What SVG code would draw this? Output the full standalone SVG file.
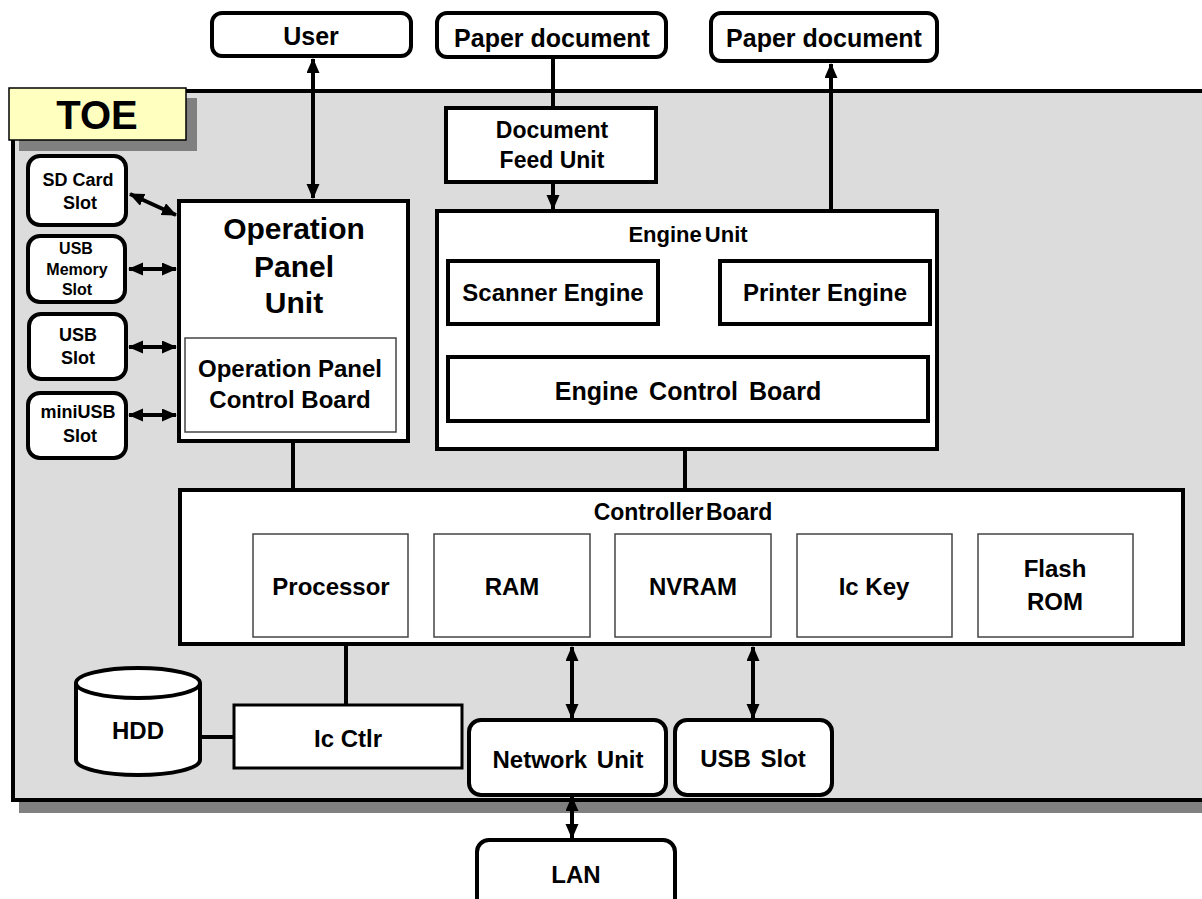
<svg xmlns="http://www.w3.org/2000/svg" width="1202" height="899" viewBox="0 0 1202 899">
<style>
text{font-family:"Liberation Sans",Arial,sans-serif;font-weight:bold;fill:#000;text-anchor:middle}
.rb{fill:#fff;stroke:#000;stroke-width:4}
.bx{fill:#fff;stroke:#000;stroke-width:4}
.thin{fill:#fff;stroke:#444;stroke-width:1.5}
.ln{stroke:#000;stroke-width:4;fill:none}
.ar{stroke:#000;stroke-width:4;fill:none;marker-end:url(#ah)}
.dar{stroke:#000;stroke-width:4;fill:none;marker-start:url(#ah);marker-end:url(#ah)}
</style>
<defs>
<marker id="ah" markerUnits="userSpaceOnUse" markerWidth="16" markerHeight="14" refX="14" refY="6.5" orient="auto-start-reverse" viewBox="0 0 16 14">
<path d="M0,0 L15,6.5 L0,13 z" fill="#000"/>
</marker>
</defs>
<rect width="1202" height="899" fill="#fff"/>
<g id="toe">
<rect x="19" y="104" width="1200" height="709" fill="#808080"/>
<rect x="13" y="91" width="1200" height="709" fill="#dcdcdc" stroke="#000" stroke-width="4"/>
<rect x="19" y="98" width="178" height="53" fill="#808080"/>
<rect x="9" y="88" width="177" height="52" fill="#ffffc0" stroke="#000" stroke-width="1.5"/>
<text x="97" y="129" font-size="40">TOE</text>
</g>
<g id="connectors">
<line class="dar" x1="313" y1="59" x2="313" y2="198"/>
<line class="ln" x1="553" y1="57" x2="553" y2="108"/>
<line class="ar" x1="553" y1="182" x2="553" y2="209"/>
<line class="ar" x1="831" y1="260" x2="831" y2="64"/>
<line class="ln" x1="553" y1="325" x2="553" y2="356"/>
<line class="ln" x1="831" y1="325" x2="831" y2="356"/>
<line class="ln" x1="685" y1="449" x2="685" y2="489"/>
<line class="ln" x1="293" y1="442" x2="293" y2="489"/>
<line class="dar" x1="130" y1="194" x2="176" y2="215"/>
<line class="dar" x1="129" y1="269" x2="176" y2="269"/>
<line class="dar" x1="129" y1="347" x2="176" y2="347"/>
<line class="dar" x1="129" y1="415" x2="176" y2="415"/>
<line class="ln" x1="346" y1="645" x2="346" y2="705"/>
<line class="ln" x1="201" y1="737" x2="234" y2="737"/>
<line class="dar" x1="572" y1="647" x2="572" y2="718"/>
<line class="dar" x1="753" y1="647" x2="753" y2="718"/>
<line class="dar" x1="572" y1="797" x2="572" y2="838"/>
</g>
<g id="user"><rect class="rb" x="212" y="13" width="199" height="43" rx="10"/><text x="311" y="45" font-size="25">User</text></g>
<g id="paper-in"><rect class="rb" x="437" y="13" width="229" height="44" rx="10"/><text x="552" y="47" font-size="25">Paper document</text></g>
<g id="paper-out"><rect class="rb" x="711" y="13" width="226" height="48" rx="10"/><text x="824" y="47" font-size="25">Paper document</text></g>
<g id="doc-feed"><rect class="bx" x="446" y="108" width="210" height="74"/><text x="552" y="138" font-size="23">Document</text><text x="552" y="168" font-size="23">Feed Unit</text></g>
<g id="engine-unit"><rect class="bx" x="437" y="211" width="500" height="238"/><text x="688" y="242" font-size="22" word-spacing="-3">Engine Unit</text></g>
<g id="scanner"><rect class="bx" x="448" y="261" width="210" height="63"/><text x="553" y="301" font-size="24">Scanner Engine</text></g>
<g id="printer"><rect class="bx" x="720" y="261" width="210" height="63"/><text x="825" y="301" font-size="24">Printer Engine</text></g>
<g id="engine-ctl"><rect class="bx" x="448" y="357" width="480" height="64"/><text x="688" y="400" font-size="25" word-spacing="4">Engine Control Board</text></g>
<g id="op-panel"><rect class="bx" x="179" y="201" width="229" height="240"/><text x="294" y="239" font-size="30">Operation</text><text x="294" y="277" font-size="30">Panel</text><text x="294" y="313" font-size="30">Unit</text>
<rect class="thin" x="185" y="338" width="211" height="94"/><text x="290" y="377" font-size="24">Operation Panel</text><text x="290" y="408" font-size="24">Control Board</text></g>
<g id="sd"><rect class="rb" x="28" y="156" width="98" height="69" rx="12"/><text x="78" y="186" font-size="18">SD Card</text><text x="80" y="209" font-size="18">Slot</text></g>
<g id="usbmem"><rect class="rb" x="28" y="236" width="97" height="66" rx="12"/><text x="76" y="254" font-size="16">USB</text><text x="77" y="275" font-size="16">Memory</text><text x="77" y="295" font-size="16">Slot</text></g>
<g id="usb-left"><rect class="rb" x="29" y="314" width="97" height="65" rx="12"/><text x="78" y="341" font-size="18">USB</text><text x="78" y="364" font-size="18">Slot</text></g>
<g id="miniusb"><rect class="rb" x="28" y="393" width="98" height="65" rx="12"/><text x="78" y="418" font-size="18">miniUSB</text><text x="80" y="442" font-size="18">Slot</text></g>
<g id="controller"><rect class="bx" x="180" y="490" width="1003" height="154"/><text x="683" y="520" font-size="23" word-spacing="-4">Controller Board</text></g>
<g id="processor"><rect class="thin" x="253" y="534" width="155" height="103"/><text x="331" y="595" font-size="24">Processor</text></g>
<g id="ram"><rect class="thin" x="434" y="534" width="156" height="103"/><text x="512" y="595" font-size="24">RAM</text></g>
<g id="nvram"><rect class="thin" x="615" y="534" width="156" height="103"/><text x="693" y="595" font-size="24">NVRAM</text></g>
<g id="ickey"><rect class="thin" x="797" y="534" width="155" height="103"/><text x="874" y="595" font-size="24">Ic Key</text></g>
<g id="flash"><rect class="thin" x="978" y="534" width="155" height="103"/><text x="1055" y="577" font-size="24">Flash</text><text x="1055" y="610" font-size="24">ROM</text></g>
<g id="hdd"><path d="M76,683 L76,760 A62,15 0 0 0 200,760 L200,683" fill="#fff" stroke="#000" stroke-width="4"/><ellipse cx="138" cy="683" rx="62" ry="15" fill="#fff" stroke="#000" stroke-width="4"/><text x="138" y="739" font-size="24">HDD</text></g>
<g id="icctlr"><rect x="234" y="705" width="228" height="63" fill="#fff" stroke="#000" stroke-width="3"/><text x="348" y="747" font-size="24">Ic Ctlr</text></g>
<g id="network"><rect class="rb" x="469" y="720" width="197" height="75" rx="12"/><text x="568" y="768" font-size="24" word-spacing="3">Network Unit</text></g>
<g id="usb-slot"><rect class="rb" x="675" y="720" width="157" height="75" rx="12"/><text x="753" y="767" font-size="24" word-spacing="3">USB Slot</text></g>
<g id="lan"><rect class="rb" x="477" y="840" width="198" height="75" rx="12"/><text x="576" y="883" font-size="24">LAN</text></g>
</svg>
